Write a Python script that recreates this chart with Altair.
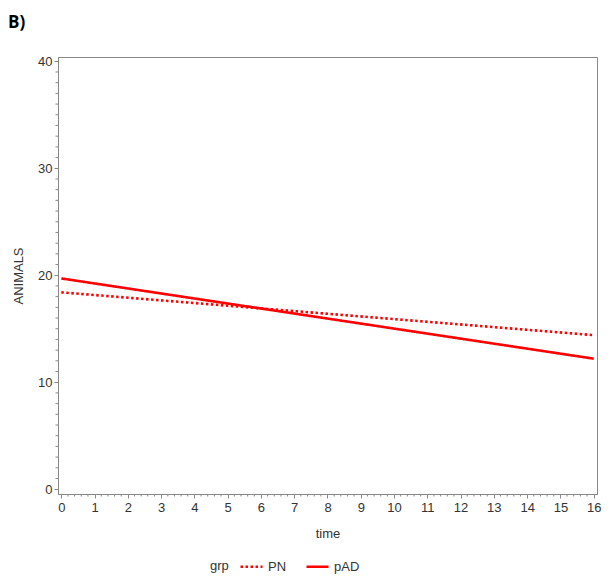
import altair as alt
import pandas as pd

time = [0, 16]
pn = [18.4, 14.4]
pad = [19.7, 12.2]
groups = ["PN", "pAD"]
x_ticks = list(range(0, 17))
y_ticks = [0, 10, 20, 30, 40]
x_minor = [round(i * 0.2, 1) for i in range(0, 81) if i % 5 != 0]
y_minor = [i for i in range(0, 41) if i % 10 != 0]
panel_label = ["B)"]
legend_title = ["grp"]

df = pd.DataFrame({
    "time": time + time,
    "ANIMALS": pn + pad,
    "grp": ["PN"] * len(time) + ["pAD"] * len(time),
})

W, H = 539, 437
FONT = "Liberation Sans"

xscale = alt.Scale(domain=[-0.1, 16.1], nice=False, zero=False)
yscale = alt.Scale(domain=[-0.45, 40.4], nice=False, zero=False)
x_axis = alt.Axis(values=x_ticks, title="time", tickSize=4, labelPadding=3,
                  titlePadding=13, format="d", labelOverlap=False)
y_axis = alt.Axis(values=y_ticks, title="ANIMALS", tickSize=4, labelPadding=2,
                  titlePadding=12, format="d", labelOverlap=False)

lines = alt.Chart(df).mark_line(strokeWidth=2.6, color="#ff0000").encode(
    x=alt.X("time:Q", scale=xscale, axis=x_axis, title="time"),
    y=alt.Y("ANIMALS:Q", scale=yscale, axis=y_axis, title="ANIMALS"),
    strokeDash=alt.StrokeDash(
        "grp:N",
        scale=alt.Scale(domain=groups, range=[[2.5, 2.5], [1, 0]]),
        legend=alt.Legend(title=None, orient="none", legendX=181, legendY=497,
                          direction="horizontal", padding=0,
                          symbolType="stroke", symbolSize=484, symbolStrokeWidth=2.6,
                          symbolStrokeColor="#ff0000", columnPadding=14,
                          labelFontSize=13, labelFont=FONT, labelColor="#333"),
    ),
)

xm = pd.DataFrame({"time": x_minor})
ym = pd.DataFrame({"ANIMALS": y_minor})

xminor = alt.Chart(xm).mark_rule(color="#888", strokeWidth=1).encode(
    x=alt.X("time:Q", scale=xscale, axis=x_axis, title="time"),
    y=alt.value(H), y2=alt.value(H + 2.5))
yminor = alt.Chart(ym).mark_rule(color="#888", strokeWidth=1).encode(
    y=alt.Y("ANIMALS:Q", scale=yscale, axis=y_axis, title="ANIMALS"),
    x=alt.value(0), x2=alt.value(-2.5))

label = alt.Chart(pd.DataFrame({"t": panel_label})).mark_text(
    font="Open Sans", fontSize=17, fontWeight="bold", color="#000",
    align="left", baseline="alphabetic",
).encode(text="t:N", x=alt.value(-50), y=alt.value(-29))

gtitle = alt.Chart(pd.DataFrame({"t": legend_title})).mark_text(
    font=FONT, fontSize=13, color="#333", align="left", baseline="middle",
).encode(text="t:N", x=alt.value(152), y=alt.value(509))

chart = alt.layer(lines, xminor, yminor, label, gtitle).properties(
    width=W, height=H,
    autosize=alt.AutoSizeParams(type="none"),
    padding={"left": 50, "top": 49, "right": 7, "bottom": 84},
).configure_view(stroke="#888", strokeWidth=1).configure_axis(
    domainColor="#888", tickColor="#888", grid=False,
    labelFont=FONT, titleFont=FONT, labelFontSize=13, titleFontSize=13,
    labelColor="#333", titleColor="#333", titleFontWeight="normal",
)

chart.save("out.html", embed_options={"renderer": "svg", "actions": False})
